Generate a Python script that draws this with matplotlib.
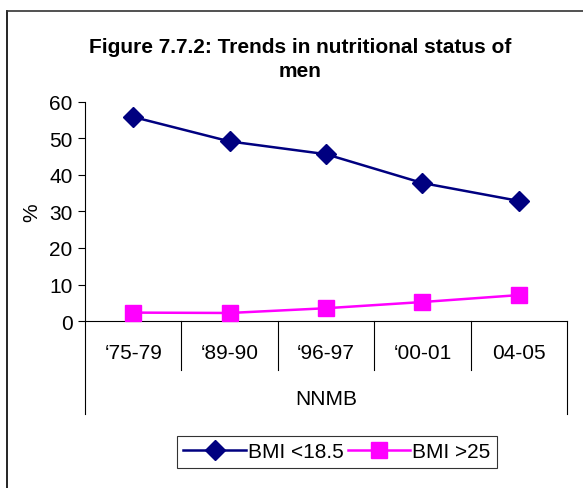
import matplotlib
matplotlib.use("Agg")
import matplotlib.pyplot as plt
import matplotlib.transforms as mtransforms
from matplotlib.lines import Line2D

plt.rcParams['font.family'] = ['Liberation Sans', 'DejaVu Sans']

# Data
periods = ["\u201875-79", "\u201889-90", "\u201896-97", "\u201800-01", "04-05"]
group_label = "NNMB"
bmi_low = [55.9, 49.2, 45.7, 37.8, 32.9]
bmi_high = [2.3, 2.2, 3.5, 5.2, 7.1]
series_names = ["BMI <18.5", "BMI >25"]
title = "Figure 7.7.2: Trends in nutritional status of\nmen"

fig = plt.figure(figsize=(5.83, 4.89), dpi=100)
ax = fig.add_axes([0.1458, 0.3415, 0.8268, 0.4479])

x = list(range(len(periods)))
ax.plot(x, bmi_low, color="#000080", lw=1.8, marker="D", ms=10,
        label=series_names[0], clip_on=False, zorder=3)
ax.plot(x, bmi_high, color="#FF00FF", lw=1.8, marker="s", ms=11,
        label=series_names[1], clip_on=False, zorder=3)

ax.set_xlim(-0.5, len(periods) - 0.5)
ax.set_ylim(0, 60)
ax.set_yticks(range(0, 61, 10))
ax.tick_params(axis="y", labelsize=15, length=5, width=0.8, pad=4)
ax.set_xticks([])
for side in ["top", "right"]:
    ax.spines[side].set_visible(False)
ax.spines["left"].set_linewidth(0.8)
ax.spines["bottom"].set_linewidth(0.8)
ax.set_ylabel("%", fontsize=15, labelpad=6)

# multi-level category axis below the plot
trans = mtransforms.blended_transform_factory(ax.transData, ax.transAxes)
for b in [i - 0.5 for i in range(len(periods) + 1)]:
    bottom = -0.425 if b in (-0.5, len(periods) - 0.5) else -0.225
    ax.plot([b, b], [0, bottom], color="black", lw=0.8, transform=trans, clip_on=False)
for i, p in enumerate(periods):
    ax.text(i, -0.145, p, transform=trans, ha="center", va="center", fontsize=15)
ax.text((len(periods) - 1) / 2, -0.355, group_label, transform=trans,
        ha="center", va="center", fontsize=15)

fig.text(0.515, 0.878, title, ha="center", va="center", fontsize=15,
         fontweight="bold", linespacing=1.35)

# chart area border (left and top)
fig.add_artist(Line2D([0.012, 0.012], [0, 0.975], color="black", lw=1.2))
fig.add_artist(Line2D([0.012, 1.0], [0.975, 0.975], color="#333333", lw=1.2))

leg = fig.legend(loc="center", bbox_to_anchor=(0.578, 0.074), ncol=2, fontsize=15,
                 frameon=True, fancybox=False, edgecolor="black", handlelength=3.0,
                 handletextpad=0.1, columnspacing=0.2, borderpad=0.3)
leg.get_frame().set_linewidth(0.8)

fig.savefig("out.png", dpi=100)
